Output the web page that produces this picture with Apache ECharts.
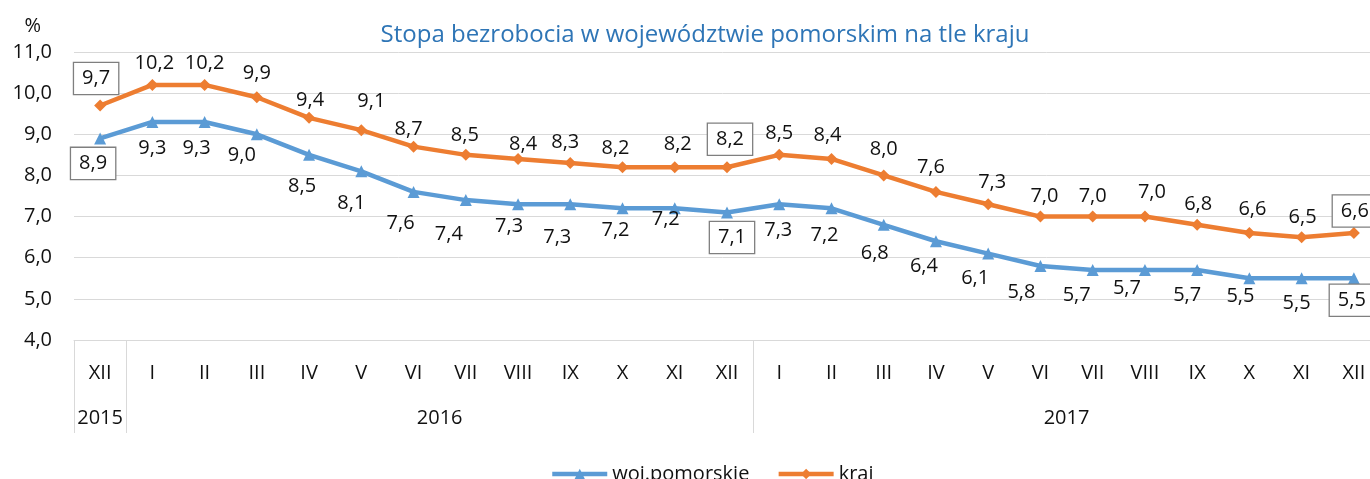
<!DOCTYPE html>
<html>
<head>
<meta charset="utf-8">
<script src="https://cdn.jsdelivr.net/npm/echarts@6/dist/echarts.min.js"></script>
<style>
  html, body { margin: 0; padding: 0; background: #fff; }
  #chart { width: 1370px; height: 479px; }
</style>
</head>
<body>
<div id="chart"></div>
<script>
// dane
const months = ["XII", "I", "II", "III", "IV", "V", "VI", "VII", "VIII", "IX", "X", "XI", "XII",
  "I", "II", "III", "IV", "V", "VI", "VII", "VIII", "IX", "X", "XI", "XII"];
const years = ["2015", "2016", "2017"];
const monthsInYear = [1, 12, 12];
const pomorskie = [8.9, 9.3, 9.3, 9.0, 8.5, 8.1, 7.6, 7.4, 7.3, 7.3, 7.2, 7.2, 7.1,
  7.3, 7.2, 6.8, 6.4, 6.1, 5.8, 5.7, 5.7, 5.7, 5.5, 5.5, 5.5];
const kraj = [9.7, 10.2, 10.2, 9.9, 9.4, 9.1, 8.7, 8.5, 8.4, 8.3, 8.2, 8.2, 8.2,
  8.5, 8.4, 8.0, 7.6, 7.3, 7.0, 7.0, 7.0, 6.8, 6.6, 6.5, 6.6];
const yTicks = [4, 5, 6, 7, 8, 9, 10, 11];

// przesuniecia etykiet (jak w excelu)
const pomOffset = [[-7, 25], [0, 26], [-8, 26], [-15, 21], [-7, 31], [-10, 32], [-13, 31], [-17, 34],
  [-9, 22], [-13, 33], [-7, 22], [-9, 11], [5, 25], [-1, 26], [-7, 27], [-9, 28], [-12, 25],
  [-13, 25], [-19, 26], [-16, 25], [-18, 18], [-10, 25], [-9, 18], [-5, 25], [-2, 22]];
const krajOffset = [[-4, -27], [2, -22], [0, -22], [0, -24], [1, -18], [10, -29], [-5, -17], [-1, -20],
  [5, -15], [-5, -21], [-7, -19], [3, -23], [3, -28], [0, -22], [-4, -24], [0, -26], [-5, -25],
  [4, -22], [4, -20], [0, -20], [7, -24], [1, -21], [3, -24], [1, -20], [1, -22]];

const FONT = "Open Sans";
const FS = 20;
const fmt = (v) => v.toFixed(1).replace(".", ",");

// poczatki i konce lat
let starts = [], ends = [], centers = [];
let acc = 0;
monthsInYear.forEach((n) => {
  starts.push(acc);
  ends.push(acc + n - 1);
  centers.push(2 * acc + n); // w polowkach kategorii
  acc += n;
});

function buildData(values, offsets) {
  return values.map((v, i) => {
    const item = { value: v, label: { offset: offsets[i] } };
    if (ends.indexOf(i) >= 0) {
      item.label.borderColor = "#7f7f7f";
      item.label.borderWidth = 1.3;
      item.label.padding = [6, 8, 5, 8];
      item.label.backgroundColor = "#fff";
    }
    return item;
  });
}

const labelBase = {
  show: true,
  position: "inside",
  color: "#111",
  fontFamily: FONT,
  fontSize: FS,
  formatter: (p) => fmt(p.value)
};

const chart = echarts.init(document.getElementById("chart"));
chart.setOption({
  animation: false,
  textStyle: { fontFamily: FONT },
  title: {
    text: "Stopa bezrobocia w województwie pomorskim na tle kraju",
    left: 700,
    textAlign: "center",
    top: 18,
    textStyle: { color: "#2E75B6", fontSize: 24, fontWeight: "normal", fontFamily: FONT }
  },
  legend: {
    left: 545,
    top: 459,
    itemWidth: 55,
    itemHeight: 13,
    itemGap: 27,
    lineStyle: { width: 4.5 },
    textStyle: { fontSize: FS, color: "#111", fontFamily: FONT },
    data: ["woj.pomorskie", "kraj"]
  },
  grid: { left: 74, top: 52, width: 1306, height: 288, outerBoundsMode: "none", containLabel: false },
  xAxis: [
    {
      type: "category",
      data: months,
      boundaryGap: true,
      axisLine: { lineStyle: { color: "#d9d9d9", width: 1 } },
      axisTick: {
        show: true,
        length: 93,
        interval: (index) => starts.indexOf(index) >= 0,
        lineStyle: { color: "#d9d9d9", width: 1 }
      },
      axisLabel: { interval: 0, margin: 23, fontSize: FS, color: "#111", fontFamily: FONT }
    },
    {
      type: "value",
      min: 0,
      max: 2 * acc,
      interval: 1,
      position: "bottom",
      axisLine: { show: false },
      axisTick: { show: false },
      splitLine: { show: false },
      axisLabel: {
        margin: 68,
        fontSize: FS,
        color: "#111",
        fontFamily: FONT,
        formatter: (v) => {
          const k = centers.indexOf(v);
          return k >= 0 ? years[k] : "";
        }
      }
    }
  ],
  yAxis: {
    type: "value",
    min: yTicks[0],
    max: yTicks[yTicks.length - 1],
    interval: 1,
    name: "%",
    nameLocation: "end",
    nameGap: 16,
    nameTextStyle: { fontSize: FS, color: "#111", align: "right", padding: [0, 33, 0, 0], fontFamily: FONT },
    axisLine: { show: false },
    axisTick: { show: false },
    splitLine: { lineStyle: { color: "#d9d9d9", width: 1 } },
    axisLabel: { margin: 22, fontSize: FS, color: "#111", fontFamily: FONT, formatter: fmt }
  },
  series: [
    {
      name: "woj.pomorskie",
      type: "line",
      data: buildData(pomorskie, pomOffset),
      symbol: "triangle",
      symbolSize: 12,
      lineStyle: { color: "#5B9BD5", width: 4.5 },
      itemStyle: { color: "#5B9BD5" },
      label: labelBase,
      z: 3
    },
    {
      name: "kraj",
      type: "line",
      data: buildData(kraj, krajOffset),
      symbol: "diamond",
      symbolSize: 12,
      lineStyle: { color: "#ED7D31", width: 4.5 },
      itemStyle: { color: "#ED7D31" },
      label: labelBase,
      z: 3
    }
  ]
});
</script>
</body>
</html>
